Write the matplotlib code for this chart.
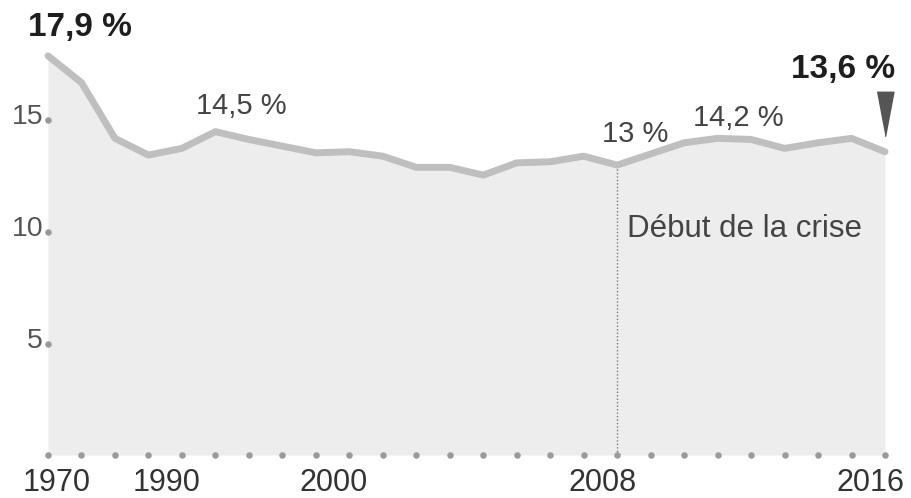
import matplotlib
matplotlib.use("Agg")
import matplotlib.pyplot as plt
from matplotlib import transforms

plt.rcParams['font.family'] = ['Liberation Sans', 'DejaVu Sans']

# données : une valeur par point de l'axe (pas irrégulier avant 2000)
years = [1970, 1975, 1980, 1985, 1990, 1992, 1994, 1996, 1998,
         2000, 2001, 2002, 2003, 2004, 2005, 2006, 2007, 2008,
         2009, 2010, 2011, 2012, 2013, 2014, 2015, 2016]
values = [17.9, 16.7, 14.2, 13.45, 13.75, 14.5, 14.15, 13.85, 13.55,
          13.6, 13.4, 12.9, 12.9, 12.55, 13.1, 13.15, 13.4, 13.0,
          13.5, 14.0, 14.2, 14.15, 13.75, 14.0, 14.2, 13.6]
year_labels = [1970, 1990, 2000, 2008, 2016]
year_label_dx = [9, -15, -16, -15, -14]  # décalage en pixels
y_ticks = [5, 10, 15]
crise_year = 2008

idx = list(range(len(years)))
px = 0.72  # 1 pixel en points (dpi 100)

fig = plt.figure(figsize=(9.11, 4.98), dpi=100)
ax = fig.add_axes([0, 0, 1, 1])
ax.set_axis_off()
# 48 px -> premier point, 33.48 px par point ; 0 % à 455 px, 22.3 px par point de %
ax.set_xlim(-48 / 33.48, (911 - 48) / 33.48)
ax.set_ylim((455 - 498) / 22.3, 455 / 22.3)

# zone remplie + courbe
ax.fill_between(idx, values, 0, color='#ededed', lw=0, zorder=1)
ax.plot(idx, values, color='#bfbfbf', lw=5, solid_joinstyle='round',
        solid_capstyle='round', zorder=3)

# début de la crise
ic = years.index(crise_year)
ax.vlines(ic, 0, values[ic], colors='#777777', linestyles=(0, (1, 1.5)), lw=1, zorder=2)
ax.annotate('Début de la crise', (ic, 10), xytext=(10 * px, 3 * px),
            textcoords='offset points', ha='left', va='center',
            fontsize=22.5, color='#444444')

# points de l'axe x
ax.scatter(idx, [0] * len(idx), s=22, color='#9a9a9a', lw=0, zorder=4, clip_on=False)
for y, dx in zip(year_labels, year_label_dx):
    ax.annotate(str(y), (years.index(y), 0), xytext=(dx * px, -28 * px),
                textcoords='offset points', ha='center', va='center',
                fontsize=22, color='#333333')

# axe y : points + chiffres
ax.scatter([0] * len(y_ticks), y_ticks, s=22, color='#9a9a9a', lw=0, zorder=4)
for t in y_ticks:
    ax.annotate(str(t), (0, t), xytext=(-5 * px, 3 * px), textcoords='offset points',
                ha='right', va='center', fontsize=20.5, color='#555555')

# étiquettes des valeurs
def label(i, txt, dx, dy, bold=False, ha='center'):
    ax.annotate(txt, (i, values[i]), xytext=(dx * px, dy * px),
                textcoords='offset points', ha=ha, va='center',
                fontsize=24 if bold else 21,
                fontweight='bold' if bold else 'normal',
                color='#1e1e1e' if bold else '#444444')

label(0, '17,9 %', -20, 28, bold=True, ha='left')
label(years.index(1992), '14,5 %', 26, 26)
label(ic, '13 %', 18, 31)
label(years.index(2010), '14,2 %', 54, 25)
label(len(years) - 1, '13,6 %', -42, 82, bold=True)

# triangle au-dessus du dernier point
tri = [(-0.38, 1), (0.38, 1), (0, -1)]
off = transforms.offset_copy(ax.transData, fig=fig, x=0, y=38 * px, units='points')
ax.plot([idx[-1]], [values[-1]], marker=tri, markersize=32, color='#555555',
        lw=0, transform=off, zorder=5)

fig.savefig('out.png', dpi=100)
